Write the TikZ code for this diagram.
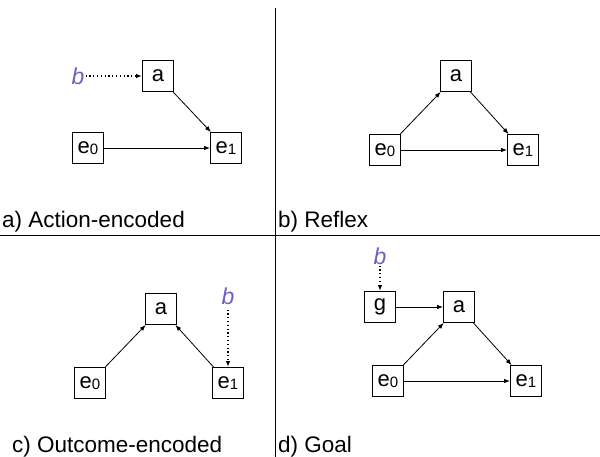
\documentclass[tikz,border=0pt]{standalone}
\usepackage{fontspec}
\setmainfont{Liberation Sans}
\usetikzlibrary{arrows.meta}
\definecolor{bpurple}{RGB}{108,98,190}
\newcommand{\sub}[1]{{\fontsize{15}{15}\selectfont\raisebox{-1.5pt}{#1}}}
\tikzset{
  x=1pt, y=-1pt,
  box/.style={draw, line width=0.9pt, minimum size=31pt, inner sep=0pt,
    font=\fontsize{22}{22}\selectfont},
  link/.style={line width=0.8pt, -{Latex[length=6pt,width=4.5pt]}},
  cue/.style={line width=1.2pt, dash pattern=on 1.2pt off 2.6pt, -{Latex[length=6pt,width=4.5pt]}},
  bvar/.style={text=bpurple, font=\fontsize{23}{23}\selectfont\itshape, inner sep=1pt},
  caption/.style={anchor=base west, inner sep=0pt, font=\fontsize{22.5}{22.5}\selectfont},
  divider/.style={line width=1pt}
}
\begin{document}
\begin{tikzpicture}
\useasboundingbox (0,0) rectangle (600,457);
% quadrant dividers
\coordinate (vtop) at (275,8);
\coordinate (vbot) at (275,457);
\coordinate (hl) at (0,236);
\coordinate (hr) at (600,236);
\draw[divider] (vtop) -- (vbot);
\draw[divider] (hl) -- (hr);

% a) action-encoded
\node[box] (aA) at (158,76) {a};
\node[box] (aE0) at (88,148) {e\sub{0}};
\node[box] (aE1) at (226,148) {e\sub{1}};
\node[bvar] (aB) at (78,76) {b};
\draw[cue] (aB) -- (aA);
\draw[link] (aA) -- (aE1);
\draw[link] (aE0) -- (aE1);
\node[caption] (capA) at (2,228) {a) Action-encoded};

% b) reflex
\node[box] (bA) at (456,76) {a};
\node[box] (bE0) at (385,150) {e\sub{0}};
\node[box] (bE1) at (523,150) {e\sub{1}};
\draw[link] (bE0) -- (bA);
\draw[link] (bA) -- (bE1);
\draw[link] (bE0) -- (bE1);
\node[caption] (capB) at (278,228) {b) Reflex};

% c) outcome-encoded
\node[box] (cA) at (161,309) {a};
\node[box] (cE0) at (90,383) {e\sub{0}};
\node[box] (cE1) at (228,383) {e\sub{1}};
\node[bvar] (cB) at (228,296) {b};
\draw[link] (cE0) -- (cA);
\draw[link] (cE1) -- (cA);
\draw[cue, shorten <=4pt] (cB) -- (cE1);
\node[caption] (capC) at (12,452) {c) Outcome-encoded};

% d) goal
\node[box] (dG) at (380,307) {g};
\node[box] (dA) at (459,307) {a};
\node[box] (dE0) at (388,381) {e\sub{0}};
\node[box] (dE1) at (526,381) {e\sub{1}};
\node[bvar] (dB) at (380,256) {b};
\draw[cue] (dB) -- (dG);
\draw[link] (dG) -- (dA);
\draw[link] (dE0) -- (dA);
\draw[link] (dA) -- (dE1);
\draw[link] (dE0) -- (dE1);
\node[caption] (capD) at (278,452) {d) Goal};
\end{tikzpicture}
\end{document}
